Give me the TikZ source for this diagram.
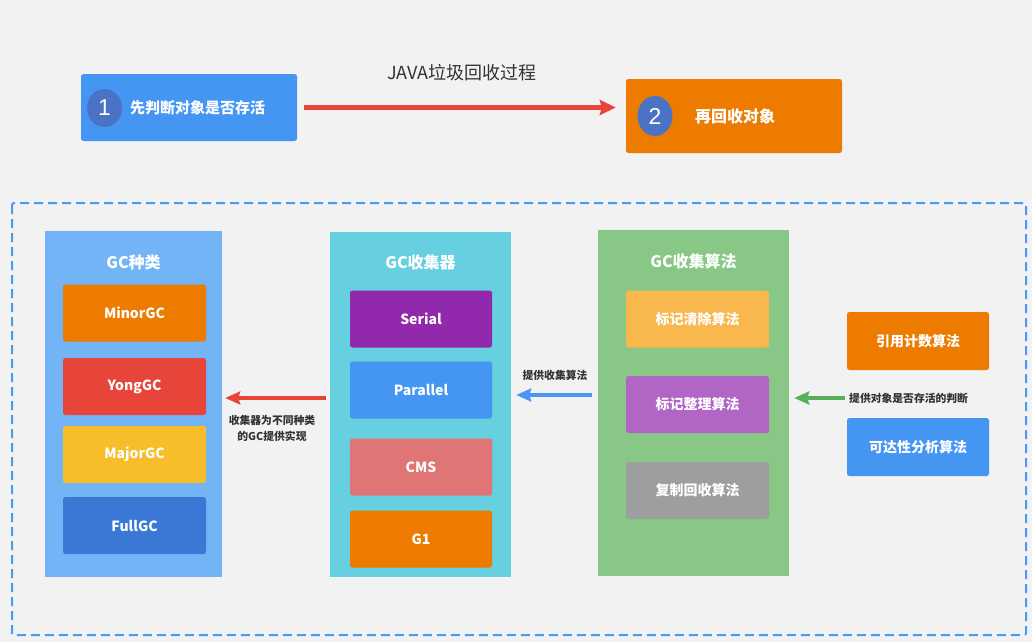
\documentclass[tikz,border=0pt]{standalone}
\usepackage{fontspec}
\setmainfont{Noto Sans CJK SC}
\newfontfamily\numfont{Liberation Sans}
\usetikzlibrary{arrows.meta,shapes.geometric}
\definecolor{bg}{HTML}{F2F2F2}
\definecolor{cblue}{HTML}{4496F2}
\definecolor{ccirc}{HTML}{4A72C5}
\definecolor{corange}{HTML}{EC7B00}
\definecolor{cred}{HTML}{E8453A}
\definecolor{cyellow}{HTML}{F5BE2A}
\definecolor{cdblue}{HTML}{3A78D6}
\definecolor{colone}{HTML}{72B4F5}
\definecolor{coltwo}{HTML}{66CFE0}
\definecolor{colthree}{HTML}{88C786}
\definecolor{cpurple}{HTML}{9229AD}
\definecolor{cpink}{HTML}{DF7574}
\definecolor{clorange}{HTML}{F8B84E}
\definecolor{cviolet}{HTML}{B166C6}
\definecolor{cgray}{HTML}{9E9E9E}
\definecolor{cdash}{HTML}{4A9AF2}
\definecolor{cgreen}{HTML}{55B059}
\definecolor{carrowblue}{HTML}{4A96F0}
\definecolor{ctext}{HTML}{333333}
\tikzset{
  column/.style={draw=none, inner sep=0pt, minimum width=#1},
  item/.style={draw=none, rounded corners=2.5pt, inner sep=0pt, minimum width=143pt, minimum height=57pt,
    text=white, font=\fontsize{14pt}{16pt}\selectfont\bfseries},
  coltitle/.style={text=white, font=\fontsize{16pt}{18pt}\selectfont\bfseries, inner sep=0pt},
  lbl/.style={text=ctext, font=\fontsize{10.8pt}{16pt}\selectfont\bfseries, inner sep=0pt, align=center},
  circ/.style={ellipse, fill=ccirc, inner sep=0pt, text=white, font=\numfont\fontsize{23pt}{24pt}\selectfont},
  bigarrow/.style={draw=cred, line width=5pt, -{Stealth[length=16pt,width=15pt,inset=2pt]}},
  smallarrow/.style={line width=4pt, -{Stealth[length=15pt,width=13pt,inset=2pt]}},
}
\begin{document}
\begin{tikzpicture}[x=1pt,y=-1pt]
\fill[bg] (0,0) rectangle (1032,642);
\useasboundingbox (0,0) rectangle (1032,642);

% top
\node[item, fill=cblue, minimum width=216pt, minimum height=67pt] (box1) at (189,107.5) {};
\node[circ, minimum width=35pt, minimum height=38pt] (c1) at (104.5,108) {1};
\node[anchor=west, text=white, font=\fontsize{15pt}{16pt}\selectfont\bfseries, inner sep=0pt] (t1) at (130,108) {先判断对象是否存活};

\node[item, fill=corange, minimum width=216pt, minimum height=74pt] (box2) at (734,116) {};
\node[circ, minimum width=35pt, minimum height=40pt] (c2) at (655,116) {2};
\node[anchor=west, text=white, font=\fontsize{16pt}{18pt}\selectfont\bfseries, inner sep=0pt] (t2) at (695,116) {再回收对象};

\node[text=ctext, font=\fontsize{18pt}{20pt}\selectfont, inner sep=0pt] (title) at (462,73) {JAVA垃圾回收过程};

\draw[bigarrow, shorten <=7pt, shorten >=10pt] (box1.east) -- (box1.east -| box2.west);

% dashed frame
\draw[cdash, line width=2pt, dash pattern=on 9pt off 5pt, rounded corners=2pt] (12,203) rectangle (1026,635);

% columns
\node[fill=colone, column=177pt, minimum height=346pt] (col1) at (133.5,404) {};
\node[coltitle] (col1t) at (133.5,262) {GC种类};
\node[item, fill=corange] (minor) at (134.5,313) {MinorGC};
\node[item, fill=cred] (yong) at (134.5,386.5) {YongGC};
\node[item, fill=cyellow] (major) at (134.5,454.5) {MajorGC};
\node[item, fill=cdblue] (full) at (134.5,525.5) {FullGC};

\node[fill=coltwo, column=181pt, minimum height=345pt] (col2) at (420.5,404.5) {};
\node[coltitle] (col2t) at (420.5,262) {GC收集器};
\node[item, fill=cpurple, minimum width=142pt] (serial) at (421,319) {Serial};
\node[item, fill=cblue, minimum width=142pt] (parallel) at (421,390) {Parallel};
\node[item, fill=cpink, minimum width=142pt] (cms) at (421,467) {CMS};
\node[item, fill=corange, minimum width=142pt] (g1) at (421,539) {G1};

\node[fill=colthree, column=191pt, minimum height=346pt] (col3) at (693.5,403) {};
\node[coltitle] (col3t) at (693.5,261) {GC收集算法};
\node[item, fill=clorange] (mark1) at (697.5,319) {标记清除算法};
\node[item, fill=cviolet] (mark2) at (697.5,404.5) {标记整理算法};
\node[item, fill=cgray] (copy) at (697.5,490.5) {复制回收算法};

\node[item, fill=corange, minimum width=142pt, minimum height=58pt] (refc) at (918,341) {引用计数算法};
\node[item, fill=cblue, minimum width=142pt, minimum height=58pt] (reach) at (918,447) {可达性分析算法};

% labels and arrows
\node[lbl, anchor=west] (glab) at (849,398) {提供对象是否存活的判断};
\draw[smallarrow, draw=cgreen, shorten <=4pt, shorten >=5pt] (glab.west) -- (glab.west -| col3.east);

\coordinate (by) at (0,395);
\node[lbl] (blab) at (555,375) {提供收集算法};
\draw[smallarrow, draw=carrowblue, shorten <=6pt, shorten >=5pt] (col3.west |- by) -- (col2.east |- by);

\coordinate (ry) at (0,398);
\node[lbl] (rlab) at (272,428) {收集器为不同种类\\的GC提供实现};
\draw[smallarrow, draw=cred, shorten <=4pt, shorten >=3pt] (col2.west |- ry) -- (col1.east |- ry);
\end{tikzpicture}
\end{document}
